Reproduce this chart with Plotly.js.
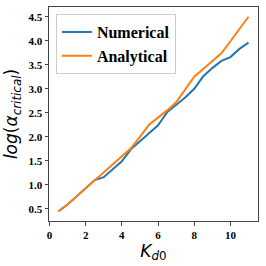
<!DOCTYPE html>
<html>
<head>
<meta charset="utf-8">
<script src="https://cdn.plot.ly/plotly-3.0.1.min.js"></script>
<style>html,body{margin:0;padding:0;background:#fff;}#chart{width:266px;height:266px;}</style>
</head>
<body>
<div id="chart"></div>
<script>
const kd0 = [0.5,1.0,1.5,2.0,2.5,3.0,3.5,4.0,4.5,5.0,5.5,6.0,6.5,7.0,7.5,8.0,8.5,9.0,9.5,10.0,10.5,11.0];
const numerical = [0.45,0.59,0.76,0.93,1.10,1.16,1.32,1.49,1.74,1.90,2.06,2.24,2.51,2.66,2.82,3.00,3.26,3.43,3.58,3.66,3.83,3.96];
const analytical = [0.45,0.59,0.76,0.93,1.10,1.26,1.43,1.59,1.76,2.00,2.25,2.40,2.55,2.72,2.98,3.25,3.41,3.57,3.74,3.99,4.25,4.50];
const xTicks = [0,2,4,6,8,10];
const yTicks = [0.5,1.0,1.5,2.0,2.5,3.0,3.5,4.0,4.5];

const traces = [
  {x: kd0, y: numerical, name: 'Numerical', mode: 'lines', line: {color: '#1f77b4', width: 2}},
  {x: kd0, y: analytical, name: 'Analytical', mode: 'lines', line: {color: '#ff7f0e', width: 2}}
];
const tickFont = {family: 'Liberation Serif, Times New Roman, serif', size: 11, color: '#000', weight: 'bold'};
const axisCommon = {
  showline: true, linecolor: '#444', linewidth: 1, mirror: true,
  ticks: 'outside', ticklen: 3.5, tickcolor: '#444', tickwidth: 1,
  showgrid: false, zeroline: false, tickfont: tickFont
};
const layout = {
  width: 266, height: 266,
  margin: {l: 49, r: 8, t: 7, b: 45},
  paper_bgcolor: '#fff', plot_bgcolor: '#fff',
  showlegend: true,
  legend: {
    x: 0.033, y: 0.967, xanchor: 'left', yanchor: 'top',
    bgcolor: 'rgba(255,255,255,0.8)', bordercolor: '#ccc', borderwidth: 1,
    font: {family: 'Liberation Serif, Times New Roman, serif', size: 16, color: '#000', weight: 'bold'},
    tracegroupgap: 0, itemwidth: 30
  },
  xaxis: Object.assign({}, axisCommon, {
    range: [-0.025, 11.525], tickmode: 'array', tickvals: xTicks, ticktext: xTicks.map(String),
    title: {text: '<i>K</i><sub><i>d</i>0</sub>', font: {family: 'DejaVu Sans', size: 17, color: '#000'}, standoff: 4}
  }),
  yaxis: Object.assign({}, axisCommon, {
    range: [0.2475, 4.7025], tickmode: 'array', tickvals: yTicks, ticktext: yTicks.map(v => v.toFixed(1)),
    title: {text: '<i>log</i>(<i>α</i><sub><i>critical</i></sub>)', font: {family: 'DejaVu Sans', size: 17, color: '#000'}, standoff: 6}
  })
};
Plotly.newPlot('chart', traces, layout, {displayModeBar: false, staticPlot: true});
</script>
</body>
</html>
